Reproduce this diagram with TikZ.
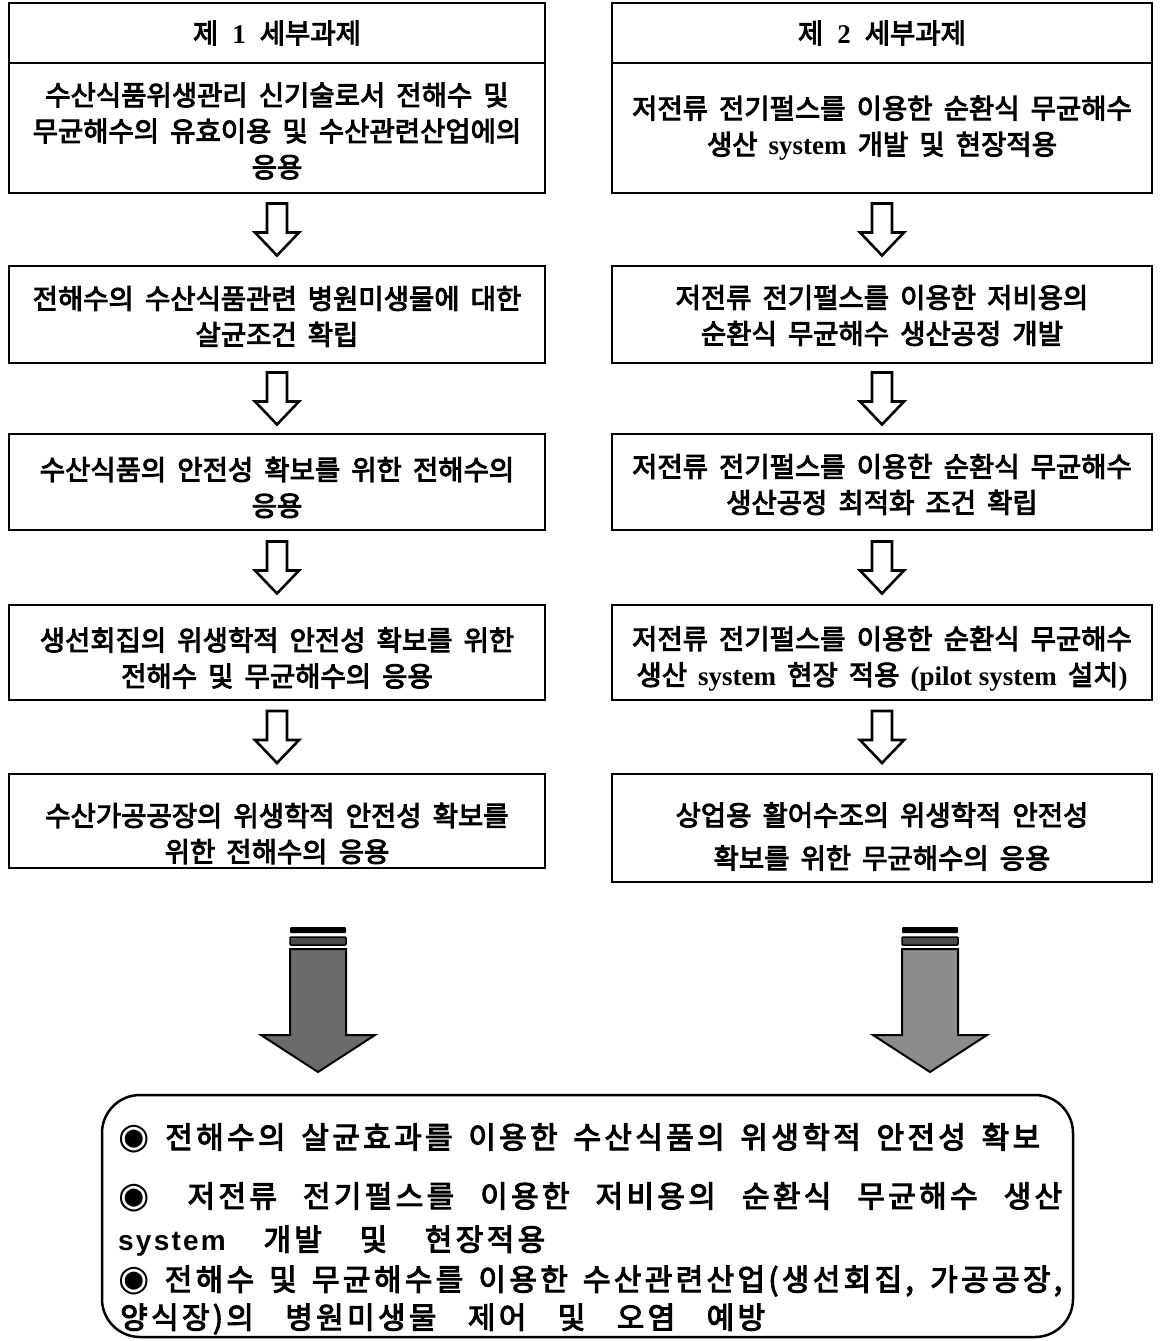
\documentclass[tikz,border=0pt]{standalone}
\usepackage{fontspec}
\usetikzlibrary{calc}
\newfontfamily\kr{Noto Sans CJK KR}[FakeBold=3.5,WordSpace=1.8]
\newfontfamily\krb{Noto Sans CJK KR}[FakeBold=3.5,LetterSpace=11,WordSpace=1]
\newfontfamily\tms{Liberation Serif}
\newfontfamily\arl{Liberation Sans}[LetterSpace=8]
\newfontfamily\djv{DejaVu Sans}
\newcommand{\sys}[1]{{\tms\bfseries\fontsize{27}{36}\selectfont #1}}
\newcommand{\blt}{{\djv\fontsize{36}{30}\selectfont ◉}}
\tikzset{
  box/.style={draw, line width=2.5pt, inner sep=0pt},
  lbox/.style={box, minimum width=536pt},
  rbox/.style={box, minimum width=540pt},
  btext/.style={align=center, inner sep=0pt, font=\kr\fontsize{27.5}{36}\selectfont},
  harrow/.pic={\draw[line width=2.6pt, fill=white, line join=miter]
    (-10,-26) -- (10,-26) -- (10,3) -- (22,3) -- (0,26) -- (-22,3) -- (-10,3) -- cycle;},
  bigarrow/.pic={
    \fill[black, rounded corners=1pt] (-28,-73) rectangle (28,-67);
    \draw[line width=1.5pt, fill=black!70, rounded corners=1pt] (-28,-63) rectangle (28,-55);
    \draw[line width=2pt, fill=\tikzpictextoptions] (-28,-51) -- (28,-51) -- (28,35) -- (57,35) -- (0,72) -- (-57,35) -- (-28,35) -- cycle;},
  bline/.style={anchor=west, inner sep=0pt, font=\krb\fontsize{30}{30}\selectfont}
}
\begin{document}
\begin{tikzpicture}[x=1pt,y=-1pt]
\useasboundingbox (0,0) rectangle (1159,1341);
% left column boxes
\node[lbox, minimum height=60pt] (L1h) at (277,33) {};
\node[lbox, minimum height=130pt] (L1b) at (277,128) {};
\node[lbox, minimum height=97pt] (L2) at (277,314.5) {};
\node[lbox, minimum height=96pt] (L3) at (277,482) {};
\node[lbox, minimum height=95pt] (L4) at (277,652.5) {};
\node[lbox, minimum height=94pt] (L5) at (277,821) {};
% left column texts
\node[btext] (L1ht) at (277,33) {제\hspace{14pt}\sys{1}\hspace{14pt}세부과제};
\node[btext] (L1bt) at (277,131) {수산식품위생관리 신기술로서 전해수 및\\무균해수의 유효이용 및 수산관련산업에의\\응용};
\node[btext] (L2t) at (277,316.5) {전해수의 수산식품관련 병원미생물에 대한\\살균조건 확립};
\node[btext] (L3t) at (277,487.5) {수산식품의 안전성 확보를 위한 전해수의\\응용};
\node[btext] (L4t) at (277,658) {생선회집의 위생학적 안전성 확보를 위한\\전해수 및 무균해수의 응용};
\node[btext] (L5t) at (277,833.5) {수산가공공장의 위생학적 안전성 확보를\\위한 전해수의 응용};
% right column boxes
\node[rbox, minimum height=60pt] (R1h) at (882,33) {};
\node[rbox, minimum height=130pt] (R1b) at (882,128) {};
\node[rbox, minimum height=97pt] (R2) at (882,314.5) {};
\node[rbox, minimum height=96pt] (R3) at (882,482) {};
\node[rbox, minimum height=95pt] (R4) at (882,652.5) {};
\node[rbox, minimum height=108pt] (R5) at (882,828) {};
% right column texts
\node[btext] (R1ht) at (882,33) {제\hspace{14pt}\sys{2}\hspace{14pt}세부과제};
\node[btext] (R1bt) at (882,128) {저전류 전기펄스를 이용한 순환식 무균해수\\생산 \sys{system} 개발 및 현장적용};
\node[btext] (R2t) at (882,315.5) {저전류 전기펄스를 이용한 저비용의\\순환식 무균해수 생산공정 개발};
\node[btext] (R3t) at (882,484.5) {저전류 전기펄스를 이용한 순환식 무균해수\\생산공정 최적화 조건 확립};
\node[btext] (R4t) at (882,658.5) {저전류 전기펄스를 이용한 순환식 무균해수\\생산 \sys{system} 현장 적용 \sys{(pilot system} 설치\sys{)}};
\node[btext, font=\kr\fontsize{27.5}{43}\selectfont] (R5t) at (882,836.5) {상업용 활어수조의 위생학적 안전성\\확보를 위한 무균해수의 응용};
% hollow arrows
\foreach \a/\b in {L1b/L2,L2/L3,L3/L4,L4/L5,R1b/R2,R2/R3,R3/R4,R4/R5}
  \pic at ($(\a.south)!0.5!(\b.north)$) {harrow};
% big arrows
\pic[pic text options={black!58}] at (318,1000) {bigarrow};
\pic[pic text options={black!45}] at (930,1000) {bigarrow};
% bottom box
\node[draw, line width=2.5pt, rounded corners=38pt, minimum width=971pt, minimum height=242pt, inner sep=0pt] (B) at (587.5,1216) {};
\node[bline] (t1) at (118,1138) {\makebox[922pt][s]{\blt{} 전해수의 살균효과를 이용한 수산식품의 위생학적 안전성 확보}};
\node[bline] (t2) at (118,1197) {\makebox[944pt][s]{\blt\hspace{12pt} 저전류 전기펄스를 이용한 저비용의 순환식 무균해수 생산}};
\node[bline] (t3) at (118,1241) {\makebox[427pt][s]{{\arl\bfseries\fontsize{28}{30}\selectfont system} 개발 및 현장적용}};
\node[bline] (t4) at (118,1281) {\makebox[944pt][s]{\blt{} 전해수 및 무균해수를 이용한 수산관련산업(생선회집, 가공공장,}};
\node[bline] (t5) at (120,1319) {\makebox[645pt][s]{양식장)의 병원미생물 제어 및 오염 예방}};
\end{tikzpicture}
\end{document}
